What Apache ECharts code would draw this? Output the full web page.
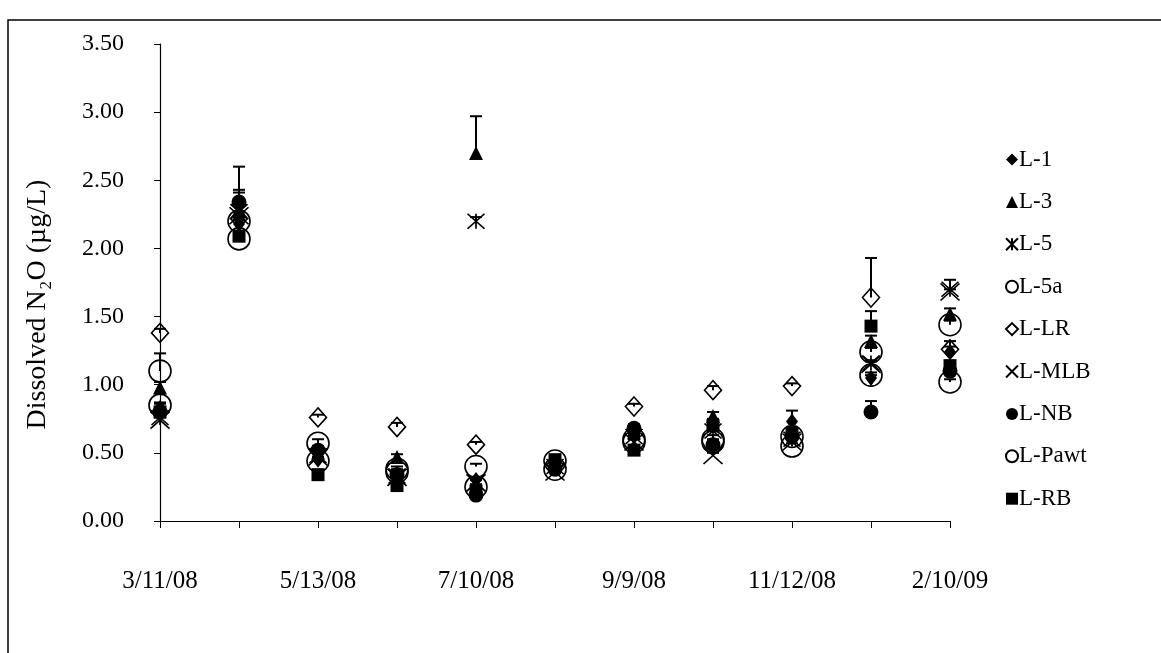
<!DOCTYPE html>
<html><head><meta charset="utf-8">
<script src="https://cdn.jsdelivr.net/npm/echarts@6/dist/echarts.min.js"></script>
<style>html,body{margin:0;padding:0;background:#fff}#c{width:1161px;height:653px}</style>
</head><body><div id="c"></div>
<script>
// ---- data ----
const categories = ['3/11/08','4/10/08','5/13/08','6/11/08','7/10/08','8/12/08','9/9/08','10/14/08','11/12/08','12/10/08','2/10/09'];
const seriesNames = ['L-1','L-3','L-5','L-5a','L-LR','L-MLB','L-NB','L-Pawt','L-RB'];
const yTicks = [0, 0.5, 1, 1.5, 2, 2.5, 3, 3.5];

const vL1    = [0.83, 2.18, 0.45, 0.30, 0.30, 0.40, 0.62, 0.72, 0.73, 1.05, 1.24];
const vL3    = [0.98, 2.25, 0.50, 0.47, 2.70, 0.42, 0.65, 0.77, 0.66, 1.32, 1.52];
const vL5    = [0.76, 2.27, 0.48, 0.33, 2.20, 0.40, 0.62, 0.66, 0.60, 1.16, 1.70];
const vL5a   = [1.10, 2.20, 0.57, 0.38, 0.40, 0.44, 0.60, 0.60, 0.62, 1.24, 1.44];
const vLLR   = [1.38, 2.22, 0.76, 0.69, 0.56, 0.41, 0.84, 0.96, 0.99, 1.64, 1.26];
const vLMLB  = [0.74, 2.24, 0.47, 0.32, 0.28, 0.36, 0.58, 0.48, 0.58, 1.15, 1.68];
const vLNB   = [0.80, 2.34, 0.52, 0.34, 0.19, 0.38, 0.68, 0.56, 0.62, 0.80, 1.10];
const vLPawt = [0.85, 2.07, 0.44, 0.36, 0.25, 0.38, 0.58, 0.58, 0.55, 1.07, 1.02];
const vLRB   = [0.80, 2.09, 0.34, 0.26, 0.22, 0.45, 0.52, 0.70, 0.64, 1.43, 1.14];

// upper error amounts
const eL1    = [0.03, 0.03, 0.02, 0.02, 0.02, 0.02, 0.03, 0.03, 0.08, 0.02, 0.08];
const eL3    = [0.04, 0.18, 0.03, 0.02, 0.27, 0.02, 0.03, 0.03, 0.03, 0.04, 0.04];
const eL5    = [0.03, 0.14, 0.02, 0.02, 0.03, 0.02, 0.02, 0.02, 0.02, 0.02, 0.07];
const eL5a   = [0.13, 0.03, 0.03, 0.02, 0.02, 0.02, 0.03, 0.03, 0.03, 0.03, 0.03];
const eLLR   = [0.03, 0.03, 0.02, 0.03, 0.02, 0.02, 0.02, 0.03, 0.02, 0.29, 0.02];
const eLMLB  = [0.02, 0.03, 0.02, 0.02, 0.02, 0.02, 0.02, 0.02, 0.02, 0.02, 0.02];
const eLNB   = [0.03, 0.26, 0.03, 0.02, 0.02, 0.02, 0.03, 0.03, 0.03, 0.08, 0.03];
const eLPawt = [0.02, 0.02, 0.02, 0.02, 0.02, 0.02, 0.02, 0.02, 0.02, 0.02, 0.02];
const eLRB   = [0.02, 0.02, 0.02, 0.02, 0.02, 0.02, 0.03, 0.03, 0.03, 0.11, 0.03];

const values = [vL1, vL3, vL5, vL5a, vLLR, vLMLB, vLNB, vLPawt, vLRB];
const errors = [eL1, eL3, eL5, eL5a, eLLR, eLMLB, eLNB, eLPawt, eLRB];

// ---- styles ----
const FONT = '"Liberation Serif", "Times New Roman", serif';
const xPath = 'path://M0,0L10,10M10,0L0,10';
const starPath = 'path://M0,0L10,10M10,0L0,10M5,0L5,10';
const clear = 'rgba(0,0,0,0)';
const markerStyles = [
  {symbol:'diamond', size:[12,16], color:'#000', border:'#000', bw:0},
  {symbol:'triangle', size:[14,14], color:'#000', border:'#000', bw:0},
  {symbol:starPath, size:[17,15], color:clear, border:'#000', bw:1.6},
  {symbol:'circle', size:22, color:clear, border:'#000', bw:1.6},
  {symbol:'diamond', size:[17,19], color:clear, border:'#000', bw:1.6},
  {symbol:xPath, size:[19,17], color:clear, border:'#000', bw:1.6},
  {symbol:'circle', size:15, color:'#000', border:'#000', bw:0},
  {symbol:'circle', size:22, color:clear, border:'#000', bw:1.6},
  {symbol:'rect', size:13, color:'#000', border:'#000', bw:0}
];

const series = [];
seriesNames.forEach((name, i) => {
  const m = markerStyles[i];
  series.push({
    name: name, type: 'scatter',
    symbol: m.symbol, symbolSize: m.size,
    itemStyle: {color: m.color, borderColor: m.border, borderWidth: m.bw, opacity: 1},
    data: values[i].map((v, k) => [k, v]),
    z: 3 + i
  });
  series.push({
    name: name, type: 'custom',
    data: values[i].map((v, k) => [k, v, errors[i][k]]),
    encode: {x: 0, y: 1},
    z: 20,
    renderItem: function (params, api) {
      const x = api.value(0), y = api.value(1), e = api.value(2);
      const p0 = api.coord([x, y]);
      const p1 = api.coord([x, y + e]);
      const hw = 6;
      return {
        type: 'group',
        children: [
          {type:'line', shape:{x1:p0[0], y1:p0[1], x2:p1[0], y2:p1[1]}, style:{stroke:'#000', lineWidth:2}},
          {type:'line', shape:{x1:p1[0]-hw, y1:p1[1], x2:p1[0]+hw, y2:p1[1]}, style:{stroke:'#000', lineWidth:2}}
        ]
      };
    },
    silent: true
  });
});

const chart = echarts.init(document.getElementById('c'), null, {renderer: 'canvas'});
chart.setOption({
  animation: false,
  backgroundColor: '#fff',
  textStyle: {fontFamily: FONT, color: '#000'},
  grid: {left: 160, right: 211, top: 44, bottom: 132, containLabel: false},
  xAxis: {
    type: 'category', data: categories, boundaryGap: false,
    axisLine: {lineStyle: {color: '#000', width: 1.2}},
    axisTick: {show: true, interval: 0, length: 7, lineStyle: {color: '#000'}},
    axisLabel: {interval: 1, color: '#000', fontFamily: FONT, fontSize: 25, margin: 48},
    splitLine: {show: false}
  },
  yAxis: {
    type: 'value', min: yTicks[0], max: yTicks[yTicks.length - 1], interval: 0.5,
    axisLine: {show: true, lineStyle: {color: '#000', width: 1.2}},
    axisTick: {show: true, length: 6, lineStyle: {color: '#000'}},
    axisLabel: {color: '#000', fontFamily: FONT, fontSize: 24, margin: 36,
      formatter: v => v.toFixed(2)},
    splitLine: {show: false},
    name: 'Dissolved N\u2082O (\u00b5g/L)', nameLocation: 'middle', nameRotate: 90, nameGap: 108,
    nameTextStyle: {color: '#000', fontFamily: FONT, fontSize: 28, padding: [0, 44, 0, 0]}
  },
  legend: {
    data: seriesNames, orient: 'vertical', left: 1000, top: 143,
    itemWidth: 12, itemHeight: 12, itemGap: 19.4,
    textStyle: {color: '#000', fontFamily: FONT, fontSize: 23, padding: [0,0,0,-4]}
  },
  graphic: [
    {type: 'rect', shape: {x: 8, y: 20, width: 1160, height: 640}, style: {fill: 'none', stroke: '#000', lineWidth: 1.5}, silent: true}
  ],
  series: series
});
</script>
</body></html>
